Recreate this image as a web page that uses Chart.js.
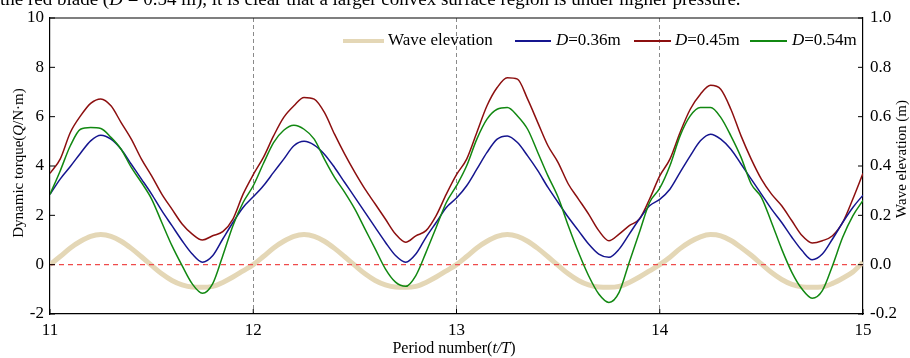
<!DOCTYPE html>
<html>
<head>
<meta charset="utf-8">
<script src="https://cdn.jsdelivr.net/npm/chart.js@4.4.1/dist/chart.umd.min.js"></script>
<style>
  html, body { margin: 0; padding: 0; background: #fff; }
  #wrap { position: relative; width: 910px; height: 358px; overflow: hidden; background: #fff; }
  #caption { position: absolute; left: 0px; top: -12px; font: 19px 'Liberation Serif', serif; line-height: 22px; white-space: nowrap; color: #000; z-index: 2; }
  canvas { position: absolute; left: 0; top: 0; }
</style>
</head>
<body>
<div id="wrap">
  <div id="caption">the red blade (<i>D</i> = 0.54 m), it is clear that a larger convex surface region is under higher pressure.</div>
  <canvas id="torqueChart" width="910" height="358"></canvas>
</div>
<script>
// period number t/T (x values)
const periods = [
  11.00, 11.05, 11.10, 11.15, 11.20, 11.25, 11.30, 11.35, 11.40, 11.45,
  11.50, 11.55, 11.60, 11.65, 11.70, 11.75, 11.80, 11.85, 11.90, 11.95,
  12.00, 12.05, 12.10, 12.15, 12.20, 12.25, 12.30, 12.35, 12.40, 12.45,
  12.50, 12.55, 12.60, 12.65, 12.70, 12.75, 12.80, 12.85, 12.90, 12.95,
  13.00, 13.05, 13.10, 13.15, 13.20, 13.25, 13.30, 13.35, 13.40, 13.45,
  13.50, 13.55, 13.60, 13.65, 13.70, 13.75, 13.80, 13.85, 13.90, 13.95,
  14.00, 14.05, 14.10, 14.15, 14.20, 14.25, 14.30, 14.35, 14.40, 14.45,
  14.50, 14.55, 14.60, 14.65, 14.70, 14.75, 14.80, 14.85, 14.90, 14.95,
  15.00
];

// wave elevation (m), right axis
const waveElevation = [
  0.000, 0.033, 0.068, 0.095, 0.115, 0.122, 0.115, 0.095, 0.066, 0.032,
  -0.003, -0.037, -0.064, -0.082, -0.091, -0.092, -0.088, -0.072, -0.050, -0.025,
  0.000, 0.033, 0.068, 0.095, 0.115, 0.122, 0.115, 0.095, 0.066, 0.032,
  -0.003, -0.037, -0.064, -0.082, -0.091, -0.092, -0.088, -0.072, -0.050, -0.025,
  0.000, 0.033, 0.068, 0.095, 0.115, 0.122, 0.115, 0.095, 0.066, 0.032,
  -0.003, -0.037, -0.064, -0.082, -0.091, -0.092, -0.088, -0.072, -0.050, -0.025,
  0.000, 0.030, 0.065, 0.093, 0.113, 0.122, 0.117, 0.098, 0.070, 0.038,
  0.003, -0.032, -0.060, -0.080, -0.090, -0.092, -0.090, -0.076, -0.055, -0.030,
  0.010
];

// dynamic torque (N·m), left axis
const torqueD036 = [
  2.85, 3.47, 3.98, 4.52, 5.02, 5.25, 5.09, 4.68, 4.07, 3.47,
  2.86, 2.19, 1.58, 0.97, 0.43, 0.10, 0.36, 1.04, 1.71, 2.32,
  2.75, 3.20, 3.74, 4.28, 4.82, 5.00, 4.85, 4.48, 3.94, 3.33,
  2.73, 2.12, 1.51, 0.91, 0.37, 0.10, 0.43, 1.11, 1.71, 2.32,
  2.70, 3.20, 3.87, 4.55, 5.09, 5.22, 4.95, 4.41, 3.81, 3.13,
  2.52, 1.92, 1.38, 0.84, 0.43, 0.30, 0.63, 1.24, 1.85, 2.39,
  2.65, 3.06, 3.74, 4.41, 5.02, 5.29, 5.09, 4.68, 4.08, 3.47,
  2.86, 2.25, 1.71, 1.11, 0.57, 0.20, 0.43, 1.04, 1.71, 2.32,
  2.82
];

const torqueD045 = [
  3.70, 4.28, 5.36, 6.03, 6.54, 6.72, 6.44, 5.76, 5.09, 4.28,
  3.60, 2.86, 2.25, 1.65, 1.24, 1.00, 1.17, 1.34, 1.85, 2.86,
  3.65, 4.35, 5.22, 5.97, 6.44, 6.78, 6.71, 6.17, 5.29, 4.48,
  3.74, 3.06, 2.46, 1.85, 1.24, 0.91, 1.17, 1.38, 1.99, 2.86,
  3.65, 4.28, 5.36, 6.44, 7.18, 7.58, 7.52, 6.71, 5.76, 4.82,
  4.14, 3.27, 2.66, 2.05, 1.38, 0.97, 1.24, 1.58, 1.85, 2.66,
  3.60, 4.28, 5.36, 6.30, 6.91, 7.27, 7.11, 6.30, 5.22, 4.28,
  3.47, 2.86, 2.39, 1.78, 1.18, 0.88, 0.97, 1.17, 1.71, 2.66,
  3.70
];

const torqueD054 = [
  2.85, 3.80, 4.82, 5.49, 5.56, 5.52, 5.16, 4.68, 3.94, 3.33,
  2.66, 1.71, 0.77, -0.04, -0.78, -1.16, -0.78, 0.36, 1.58, 2.52,
  3.20, 4.10, 4.95, 5.45, 5.65, 5.49, 5.09, 4.28, 3.54, 2.93,
  2.25, 1.44, 0.64, -0.17, -0.71, -0.88, -0.44, 0.50, 1.51, 2.52,
  3.20, 4.01, 5.09, 5.90, 6.30, 6.37, 6.03, 5.49, 4.55, 3.60,
  2.73, 1.58, 0.50, -0.45, -1.19, -1.53, -1.12, 0.10, 1.31, 2.52,
  3.10, 4.01, 5.22, 6.03, 6.37, 6.37, 5.97, 5.22, 4.35, 3.27,
  2.73, 1.71, 0.63, -0.31, -0.99, -1.36, -1.05, -0.04, 1.11, 1.98,
  2.60
];

const xTicks = [11, 12, 13, 14, 15];
const zeroLine = [0, 0];
const seriesLabels = ['Wave elevation', 'D=0.36m', 'D=0.45m', 'D=0.54m'];

const SERIF = "'Liberation Serif', 'Times New Roman', serif";

function toPoints(ys) {
  return periods.map((p, i) => ({ x: p, y: ys[i] }));
}

// draw a string made of plain / italic pieces, centred on (x, y)
function drawRich(ctx, parts, x, y, size, align) {
  const fontFor = p => (p.italic ? 'italic ' : '') + size + 'px ' + SERIF;
  let total = 0;
  parts.forEach(p => { ctx.font = fontFor(p); total += ctx.measureText(p.t).width; });
  let cx = align === 'left' ? x : x - total / 2;
  ctx.textBaseline = 'middle';
  ctx.textAlign = 'left';
  parts.forEach(p => {
    ctx.font = fontFor(p);
    ctx.fillText(p.t, cx, y);
    cx += ctx.measureText(p.t).width;
  });
}

function labelParts(label) {
  if (label.startsWith('D=')) return [{ t: 'D', italic: true }, { t: label.slice(1) }];
  return [{ t: label }];
}

// box, inward ticks, axis titles and legend
const framePlugin = {
  id: 'frame',
  afterDraw(chart) {
    const { ctx, chartArea: a, scales } = chart;
    ctx.save();
    ctx.strokeStyle = '#000';
    ctx.lineWidth = 1.2;
    ctx.beginPath();
    ctx.moveTo(a.left, a.top);
    ctx.lineTo(a.right, a.top);
    ctx.stroke();

    ctx.lineWidth = 1;
    ctx.beginPath();
    scales.y.ticks.forEach(t => {
      const py = scales.y.getPixelForValue(t.value);
      ctx.moveTo(a.left, py); ctx.lineTo(a.left + 5, py);
    });
    scales.y1.ticks.forEach(t => {
      const py = scales.y1.getPixelForValue(t.value);
      ctx.moveTo(a.right, py); ctx.lineTo(a.right - 5, py);
    });
    scales.x.ticks.forEach(t => {
      const px = scales.x.getPixelForValue(t.value);
      ctx.moveTo(px, a.bottom); ctx.lineTo(px, a.bottom - 5);
    });
    ctx.stroke();

    ctx.fillStyle = '#000';
    // axis titles
    ctx.save();
    ctx.translate(19, 163);
    ctx.rotate(-Math.PI / 2);
    drawRich(ctx, [{ t: 'Dynamic torque(' }, { t: 'Q', italic: true }, { t: '/N·m)' }], 0, 0, 15);
    ctx.restore();

    ctx.save();
    ctx.translate(902, 159);
    ctx.rotate(-Math.PI / 2);
    drawRich(ctx, [{ t: 'Wave elevation (m)' }], 0, 0, 15);
    ctx.restore();

    drawRich(ctx, [{ t: 'Period number(' }, { t: 't/T', italic: true }, { t: ')' }],
      454, 349, 16);

    // legend
    const slots = [
      { lineX: 343, lineW: 41, textX: 388 },
      { lineX: 515, lineW: 36, textX: 556 },
      { lineX: 634, lineW: 37, textX: 675 },
      { lineX: 750, lineW: 37, textX: 792 }
    ];
    const ly = 41;
    seriesLabels.forEach((label, i) => {
      const ds = chart.data.datasets[i];
      const s = slots[i];
      ctx.strokeStyle = ds.borderColor;
      ctx.lineWidth = i === 0 ? 4 : 2;
      ctx.beginPath();
      ctx.moveTo(s.lineX, ly);
      ctx.lineTo(s.lineX + s.lineW, ly);
      ctx.stroke();
      ctx.fillStyle = '#000';
      drawRich(ctx, labelParts(label), s.textX, ly, 17, 'left');
    });
    ctx.restore();
  }
};

const tickFont = { family: SERIF, size: 17 };

new Chart(document.getElementById('torqueChart').getContext('2d'), {
  type: 'line',
  data: {
    datasets: [
      {
        label: seriesLabels[0],
        data: toPoints(waveElevation),
        yAxisID: 'y1',
        borderColor: '#e4d7b6',
        borderWidth: 5,
        order: 5
      },
      {
        label: seriesLabels[1],
        data: toPoints(torqueD036),
        yAxisID: 'y',
        borderColor: '#15158f',
        borderWidth: 1.5,
        order: 2
      },
      {
        label: seriesLabels[2],
        data: toPoints(torqueD045),
        yAxisID: 'y',
        borderColor: '#8c0f0f',
        borderWidth: 1.5,
        order: 3
      },
      {
        label: seriesLabels[3],
        data: toPoints(torqueD054),
        yAxisID: 'y',
        borderColor: '#118811',
        borderWidth: 1.5,
        order: 1
      },
      {
        label: 'zero',
        data: [{ x: xTicks[0], y: zeroLine[0] }, { x: xTicks[xTicks.length - 1], y: zeroLine[1] }],
        yAxisID: 'y',
        borderColor: '#ef4b4b',
        borderWidth: 1.2,
        borderDash: [5, 4],
        order: 4
      }
    ]
  },
  options: {
    responsive: false,
    animation: false,
    layout: { padding: { top: 18, left: 0, right: 0, bottom: 0 } },
    elements: {
      point: { radius: 0 },
      line: { cubicInterpolationMode: 'monotone', tension: 0.4 }
    },
    plugins: {
      legend: { display: false },
      tooltip: { enabled: false }
    },
    scales: {
      x: {
        type: 'linear',
        min: 11,
        max: 15,
        afterFit: s => { s.height = 44; },
        afterBuildTicks: s => { s.ticks = xTicks.map(v => ({ value: v })); },
        ticks: { font: tickFont, color: '#000', padding: 6, maxRotation: 0 },
        grid: {
          drawTicks: false,
          lineWidth: 1,
          color: c => (c.tick && c.tick.value > 11 && c.tick.value < 15 ? '#8a8a8a' : 'rgba(0,0,0,0)')
        },
        border: { display: true, color: '#000', width: 1.2, dash: [4, 3] }
      },
      y: {
        position: 'left',
        min: -2,
        max: 10,
        afterFit: s => { s.width = 50; },
        ticks: { stepSize: 2, font: tickFont, color: '#000', padding: 6 },
        grid: { display: false, drawTicks: false },
        border: { display: true, color: '#000', width: 1.2 }
      },
      y1: {
        position: 'right',
        min: -0.2,
        max: 1.0,
        afterFit: s => { s.width = 47; },
        ticks: {
          stepSize: 0.2,
          font: tickFont,
          color: '#000',
          padding: 7,
          callback: v => (Math.abs(v) < 1e-9 ? 0 : v).toFixed(1)
        },
        grid: { display: false, drawTicks: false },
        border: { display: true, color: '#000', width: 1.2 }
      }
    }
  },
  plugins: [framePlugin]
});
</script>
</body>
</html>
